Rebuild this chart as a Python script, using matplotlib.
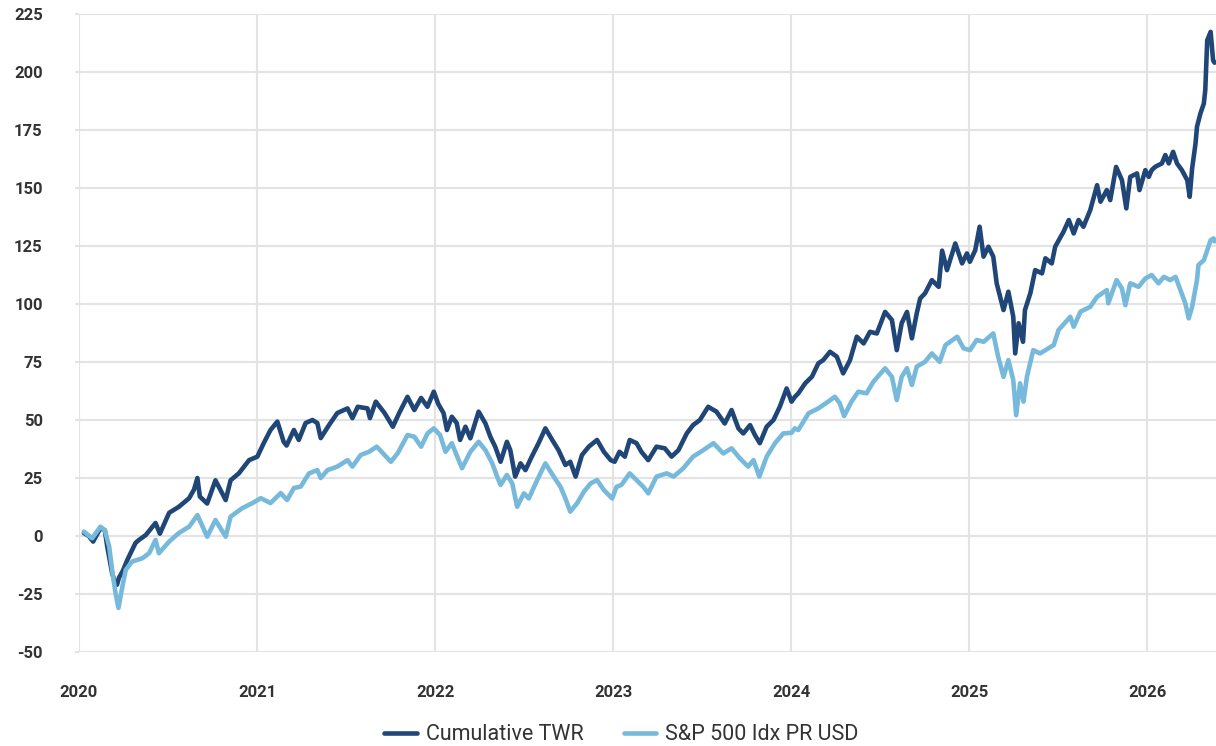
import matplotlib
matplotlib.use("Agg")
import matplotlib.pyplot as plt
import pandas as pd

# ---------------- data ----------------
twr_dates = [
    "2020-01-11", "2020-01-21", "2020-01-30", "2020-02-14", "2020-02-23", "2020-02-28",
    "2020-03-09", "2020-03-16", "2020-03-19", "2020-03-23", "2020-03-31", "2020-04-09",
    "2020-04-26", "2020-05-03", "2020-05-17", "2020-06-06", "2020-06-15", "2020-07-04",
    "2020-07-24", "2020-08-14", "2020-08-24", "2020-08-31", "2020-09-05", "2020-09-20",
    "2020-10-07", "2020-10-28", "2020-11-07", "2020-11-24", "2020-12-15", "2021-01-01",
    "2021-01-14", "2021-01-28", "2021-02-11", "2021-02-24", "2021-03-02", "2021-03-17",
    "2021-03-27", "2021-04-10", "2021-04-24", "2021-05-04", "2021-05-11", "2021-05-28",
    "2021-06-14", "2021-07-05", "2021-07-15", "2021-07-26", "2021-08-15", "2021-08-20",
    "2021-09-01", "2021-09-19", "2021-10-06", "2021-10-19", "2021-11-05", "2021-11-19",
    "2021-12-03", "2021-12-16", "2021-12-29", "2022-01-07", "2022-01-18", "2022-01-25",
    "2022-02-04", "2022-02-14", "2022-02-21", "2022-03-04", "2022-03-14", "2022-03-31",
    "2022-04-14", "2022-04-24", "2022-05-04", "2022-05-15", "2022-05-28", "2022-06-04",
    "2022-06-14", "2022-06-25", "2022-07-05", "2022-07-18", "2022-08-01", "2022-08-15",
    "2022-08-29", "2022-09-11", "2022-09-25", "2022-10-05", "2022-10-16", "2022-10-29",
    "2022-11-12", "2022-11-29", "2022-12-13", "2022-12-27", "2023-01-04", "2023-01-14",
    "2023-01-25", "2023-02-04", "2023-02-18", "2023-02-28", "2023-03-14", "2023-03-31",
    "2023-04-17", "2023-05-01", "2023-05-15", "2023-06-01", "2023-06-14", "2023-06-28",
    "2023-07-15", "2023-08-01", "2023-08-18", "2023-09-01", "2023-09-15", "2023-09-25",
    "2023-10-09", "2023-10-19", "2023-10-29", "2023-11-12", "2023-11-26", "2023-12-09",
    "2023-12-23", "2024-01-02", "2024-01-09", "2024-01-16", "2024-01-30", "2024-02-13",
    "2024-02-26", "2024-03-07", "2024-03-21", "2024-04-04", "2024-04-17", "2024-05-01",
    "2024-05-15", "2024-05-29", "2024-06-11", "2024-06-25", "2024-07-12", "2024-07-26",
    "2024-08-05", "2024-08-15", "2024-08-26", "2024-09-05", "2024-09-15", "2024-09-22",
    "2024-10-02", "2024-10-16", "2024-10-30", "2024-11-06", "2024-11-16", "2024-12-03",
    "2024-12-17", "2024-12-27", "2025-01-02", "2025-01-13", "2025-01-22", "2025-01-30",
    "2025-02-09", "2025-02-19", "2025-02-26", "2025-03-12", "2025-03-22", "2025-04-01",
    "2025-04-05", "2025-04-12", "2025-04-21", "2025-04-25", "2025-05-06", "2025-05-16",
    "2025-05-30", "2025-06-06", "2025-06-19", "2025-06-26", "2025-07-13", "2025-07-24",
    "2025-08-03", "2025-08-13", "2025-08-23", "2025-09-06", "2025-09-20", "2025-09-27",
    "2025-10-10", "2025-10-17", "2025-10-29", "2025-11-10", "2025-11-19", "2025-11-27",
    "2025-12-11", "2025-12-16", "2025-12-28", "2026-01-04", "2026-01-10", "2026-01-17",
    "2026-01-31", "2026-02-07", "2026-02-14", "2026-02-23", "2026-03-03", "2026-03-13",
    "2026-03-24", "2026-03-29", "2026-04-03", "2026-04-10", "2026-04-13", "2026-04-20",
    "2026-04-27", "2026-04-30", "2026-05-04", "2026-05-11", "2026-05-16", "2026-05-19",
]
twr_values = [
    1.3, 0.0, -2.4, 3.4, 2.5, -4.6,
    -16.0, -21.0, -21.0, -18.0, -15.0, -10.4,
    -3.0, -1.7, 0.4, 5.6, 1.0, 10.0,
    12.6, 16.3, 20.0, 25.0, 17.0, 14.0,
    24.0, 15.5, 24.0, 27.0, 32.7, 34.2,
    40.0, 45.7, 49.3, 40.6, 39.0, 45.7,
    41.4, 48.7, 50.0, 48.7, 42.2, 47.8,
    53.0, 55.0, 50.8, 55.7, 55.0, 50.8,
    57.9, 53.0, 47.1, 53.0, 60.0, 54.3,
    59.5, 55.7, 62.2, 57.0, 53.0, 45.7,
    51.4, 48.7, 41.4, 47.1, 42.1, 53.6,
    48.5, 42.8, 38.5, 32.0, 40.6, 37.0,
    25.6, 31.3, 28.4, 34.2, 40.0, 46.4,
    41.4, 37.0, 30.6, 32.0, 25.6, 34.9,
    38.5, 41.4, 36.3, 32.7, 32.0, 36.3,
    34.2, 41.4, 40.0, 36.3, 32.7, 38.5,
    37.8, 34.2, 37.0, 44.2, 47.8, 50.0,
    55.7, 53.6, 48.5, 54.3, 46.4, 44.2,
    47.8, 43.5, 40.0, 47.1, 50.0, 55.7,
    63.6, 57.9, 60.0, 61.5, 65.8, 68.7,
    74.4, 75.8, 79.4, 77.3, 70.1, 75.8,
    85.9, 83.0, 88.0, 87.3, 96.6, 93.1,
    80.1, 91.7, 96.6, 85.2, 96.0, 102.4,
    104.6, 110.3, 107.4, 123.0, 114.6, 126.1,
    117.5, 121.8, 118.2, 123.2, 133.3, 120.4,
    124.7, 120.4, 108.9, 97.4, 105.3, 94.5,
    78.7, 91.7, 83.7, 97.4, 104.6, 114.6,
    113.2, 119.7, 117.5, 124.7, 131.1, 136.2,
    130.4, 136.2, 133.3, 140.5, 151.2, 144.1,
    149.1, 144.8, 159.1, 153.4, 141.2, 154.8,
    156.3, 149.1, 157.7, 154.8, 157.7, 159.1,
    160.6, 164.2, 160.6, 165.6, 160.6, 157.7,
    153.4, 146.2, 158.4, 169.2, 176.4, 182.1,
    186.4, 192.2, 213.7, 217.3, 205.1, 204.0,
]

spx_dates = [
    "2020-01-11", "2020-01-28", "2020-02-14", "2020-02-23", "2020-03-03", "2020-03-09",
    "2020-03-16", "2020-03-22", "2020-03-30", "2020-04-06", "2020-04-19", "2020-05-10",
    "2020-05-24", "2020-06-06", "2020-06-13", "2020-07-04", "2020-07-24", "2020-08-14",
    "2020-08-31", "2020-09-20", "2020-10-07", "2020-10-28", "2020-11-07", "2020-12-01",
    "2020-12-22", "2021-01-08", "2021-01-28", "2021-02-18", "2021-03-03", "2021-03-17",
    "2021-03-31", "2021-04-17", "2021-05-04", "2021-05-11", "2021-05-25", "2021-06-14",
    "2021-07-05", "2021-07-15", "2021-08-01", "2021-08-18", "2021-09-03", "2021-09-19",
    "2021-10-02", "2021-10-16", "2021-11-05", "2021-11-19", "2021-12-03", "2021-12-16",
    "2021-12-29", "2022-01-11", "2022-01-22", "2022-02-04", "2022-02-18", "2022-02-25",
    "2022-03-14", "2022-03-31", "2022-04-14", "2022-04-28", "2022-05-08", "2022-05-15",
    "2022-05-28", "2022-06-08", "2022-06-18", "2022-07-02", "2022-07-12", "2022-07-26",
    "2022-08-08", "2022-08-15", "2022-09-01", "2022-09-15", "2022-09-25", "2022-10-05",
    "2022-10-19", "2022-11-02", "2022-11-16", "2022-11-29", "2022-12-13", "2022-12-30",
    "2023-01-08", "2023-01-18", "2023-02-04", "2023-02-18", "2023-03-04", "2023-03-14",
    "2023-03-31", "2023-04-21", "2023-05-05", "2023-05-25", "2023-06-14", "2023-07-05",
    "2023-07-26", "2023-08-15", "2023-09-01", "2023-09-18", "2023-10-05", "2023-10-16",
    "2023-10-28", "2023-11-12", "2023-11-29", "2023-12-16", "2024-01-02", "2024-01-09",
    "2024-01-16", "2024-02-06", "2024-02-26", "2024-03-17", "2024-03-31", "2024-04-10",
    "2024-04-19", "2024-05-04", "2024-05-18", "2024-06-04", "2024-06-18", "2024-07-12",
    "2024-07-26", "2024-08-05", "2024-08-15", "2024-08-26", "2024-09-05", "2024-09-15",
    "2024-10-02", "2024-10-16", "2024-11-01", "2024-11-13", "2024-12-07", "2024-12-20",
    "2025-01-02", "2025-01-16", "2025-01-30", "2025-02-19", "2025-03-01", "2025-03-12",
    "2025-03-22", "2025-04-01", "2025-04-07", "2025-04-15", "2025-04-22", "2025-04-29",
    "2025-05-12", "2025-05-26", "2025-06-23", "2025-07-03", "2025-07-27", "2025-08-03",
    "2025-08-17", "2025-09-06", "2025-09-20", "2025-10-10", "2025-10-13", "2025-10-30",
    "2025-11-10", "2025-11-17", "2025-11-27", "2025-12-14", "2025-12-28", "2026-01-10",
    "2026-01-24", "2026-02-04", "2026-02-17", "2026-02-28", "2026-03-10", "2026-03-20",
    "2026-03-27", "2026-04-03", "2026-04-13", "2026-04-16", "2026-04-27", "2026-05-04",
    "2026-05-11", "2026-05-17", "2026-05-19",
]
spx_values = [
    1.9, -1.0, 4.0, 2.5, -4.6, -14.6,
    -24.7, -31.0, -21.8, -14.6, -11.0, -9.6,
    -7.4, -1.7, -7.4, -2.4, 1.3, 4.0,
    9.0, -0.3, 6.9, -0.3, 8.3, 12.0,
    14.2, 16.3, 14.2, 18.5, 15.5, 20.7,
    21.3, 27.0, 28.4, 25.0, 28.4, 29.9,
    32.7, 29.9, 34.9, 36.3, 38.5, 34.9,
    32.0, 35.7, 43.5, 42.8, 38.5, 44.2,
    46.4, 43.5, 36.3, 40.0, 32.7, 29.2,
    36.3, 40.6, 37.0, 31.3, 25.6, 22.0,
    26.3, 22.7, 12.6, 18.4, 16.2, 22.7,
    28.4, 31.3, 25.6, 21.2, 16.2, 10.5,
    14.1, 19.1, 22.7, 24.1, 19.8, 16.2,
    21.2, 22.0, 27.0, 24.1, 21.2, 18.4,
    25.6, 27.0, 25.6, 29.2, 34.2, 37.0,
    40.0, 35.6, 37.8, 33.5, 29.9, 32.7,
    25.6, 34.2, 40.0, 44.2, 44.5, 46.4,
    45.7, 52.9, 55.0, 57.9, 60.0, 57.2,
    51.7, 57.9, 62.2, 61.5, 66.5, 72.3,
    68.6, 58.6, 68.6, 72.3, 65.1, 73.0,
    75.1, 78.7, 75.1, 82.3, 85.9, 80.9,
    80.1, 84.5, 83.7, 87.3, 77.3, 68.6,
    75.8, 67.2, 52.1, 65.8, 57.9, 68.6,
    80.1, 78.7, 82.3, 88.8, 94.5, 90.2,
    96.7, 98.8, 103.1, 106.0, 100.3, 110.3,
    106.7, 99.5, 108.9, 107.4, 111.0, 112.5,
    108.9, 111.7, 110.3, 111.7, 106.0, 100.3,
    93.8, 98.8, 110.3, 116.8, 118.9, 123.2,
    127.5, 128.3, 127.0,
]

year_ticks = ["2020", "2021", "2022", "2023", "2024", "2025", "2026"]
y_ticks = [-50, -25, 0, 25, 50, 75, 100, 125, 150, 175, 200, 225]
series_names = ["Cumulative TWR", "S&P 500 Idx PR USD"]

# ---------------- styling ----------------
DARK = "#1f4677"
LIGHT = "#77b9db"
GRID = "#e3e3e3"
TEXT = "#333333"

plt.rcParams["font.family"] = ["Roboto", "DejaVu Sans"]

fig = plt.figure(figsize=(12.16, 7.46), dpi=100)
ax = fig.add_axes([78.5 / 1216, 1 - 652 / 746, 1 - 78.5 / 1216, (652 - 14) / 746])

td = pd.to_datetime(twr_dates)
sd = pd.to_datetime(spx_dates)

l1, = ax.plot(td, twr_values, color=DARK, lw=3.3, solid_joinstyle="round",
              solid_capstyle="round", label=series_names[0], zorder=3)
l2, = ax.plot(sd, spx_values, color=LIGHT, lw=3.3, solid_joinstyle="round",
              solid_capstyle="round", label=series_names[1], zorder=4)

ax.set_ylim(-50, 225)
ax.set_yticks(y_ticks)
ax.set_yticklabels([str(v) for v in y_ticks])
ax.set_xlim(pd.Timestamp("2019-12-31"), pd.Timestamp("2026-05-22"))
xt = [pd.Timestamp(y + "-01-01") for y in year_ticks]
ax.set_xticks(xt)
ax.set_xticklabels(year_ticks)

for s in ax.spines.values():
    s.set_visible(False)
ax.grid(True, color=GRID, lw=1.5, zorder=0)
ax.set_axisbelow(True)

ax.tick_params(axis="y", length=3.2, width=1.5, color=GRID, pad=22.5,
               labelsize=12, labelcolor=TEXT)
ax.tick_params(axis="x", length=0, pad=24, labelsize=12, labelcolor=TEXT)
for lab in ax.get_xticklabels() + ax.get_yticklabels():
    lab.set_fontweight("bold")

leg = fig.legend(handles=[l1, l2], loc="center", ncol=2, frameon=False,
                 bbox_to_anchor=(621.5 / 1216, 1 - 735 / 746),
                 fontsize=15.5, handlelength=1.5, handletextpad=0.42,
                 columnspacing=1.9, labelcolor=TEXT)
for line in leg.get_lines():
    line.set_linewidth(3.3)
    line.set_solid_capstyle("round")

fig.savefig("out.png", dpi=100)
